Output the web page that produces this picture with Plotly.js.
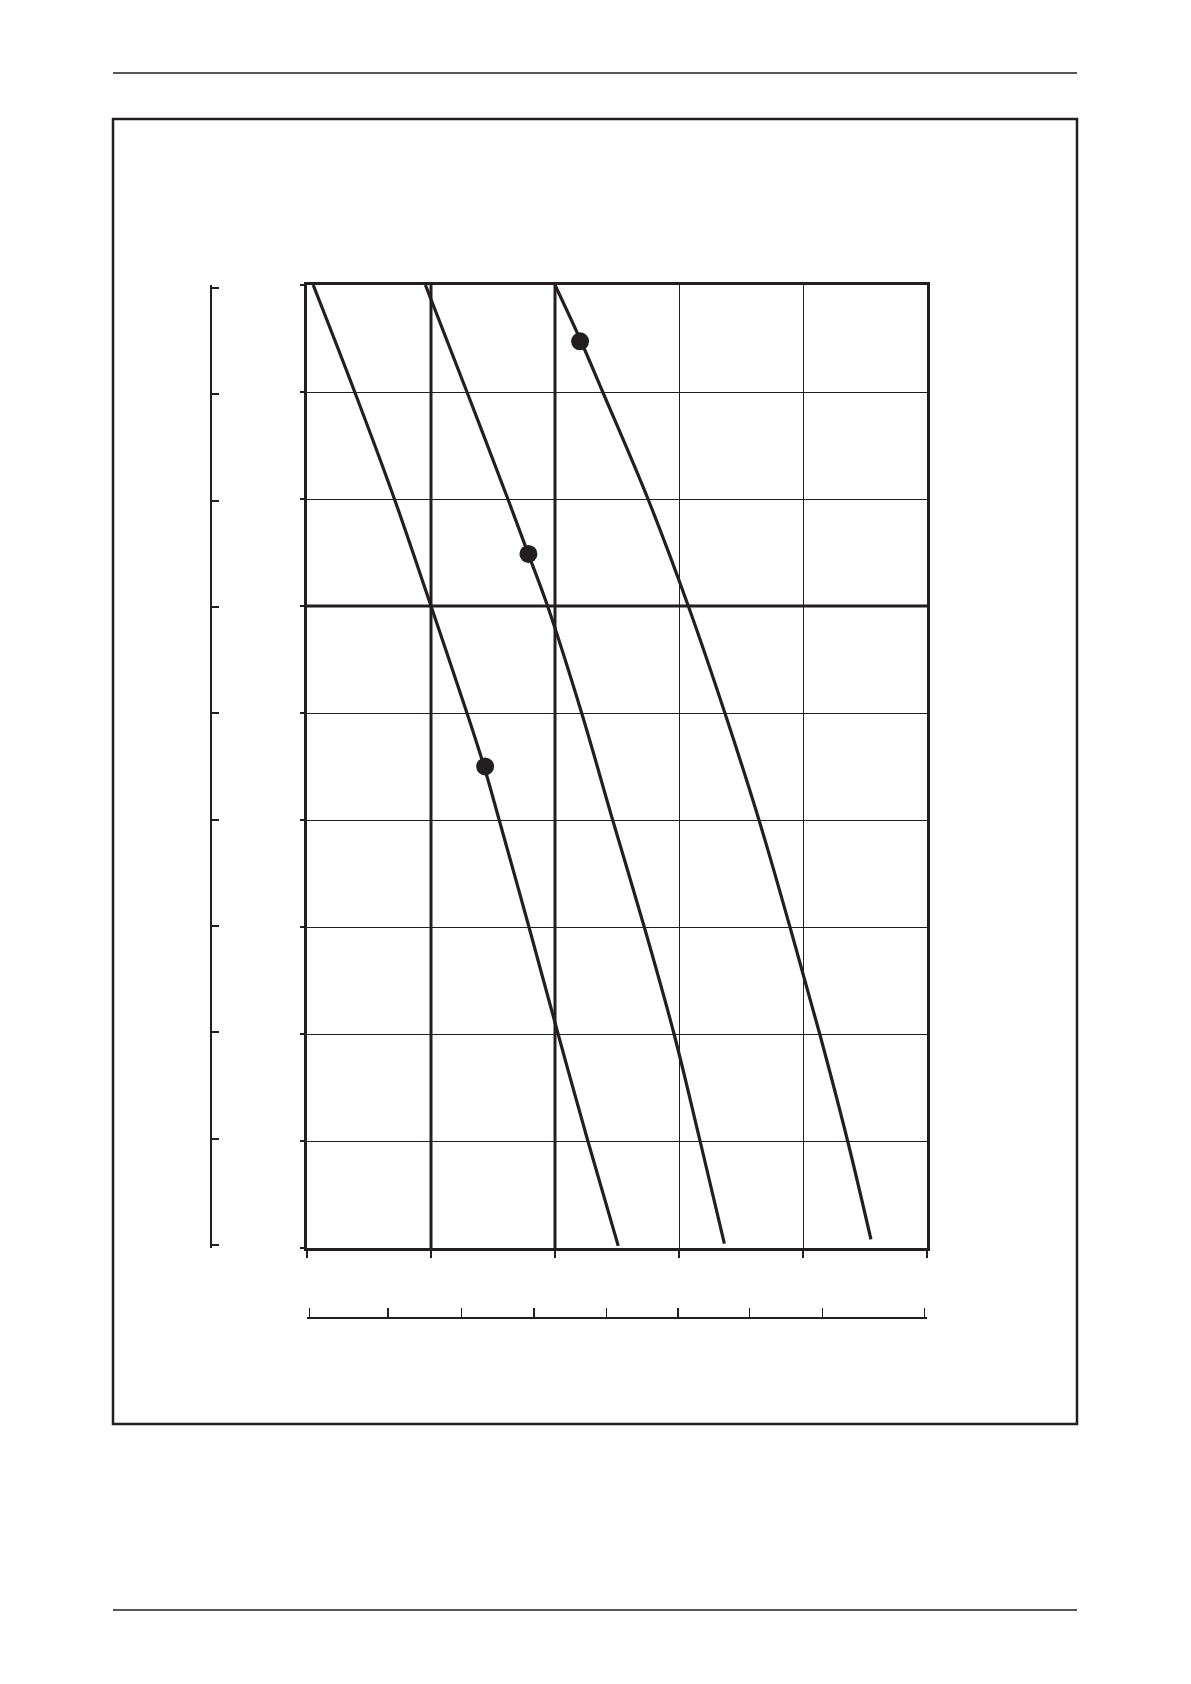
<!DOCTYPE html>
<html>
<head>
<meta charset="utf-8">
<script src="https://cdn.plot.ly/plotly-3.0.1.min.js"></script>
<style>
  html, body { margin: 0; padding: 0; background: #ffffff; }
  #chart { width: 1191px; height: 1684px; }
</style>
</head>
<body>
<div id="chart"></div>
<script>
// Curve readings (x in grid columns 0..5, y in grid rows 0..9)
const curveLowY  = [9, 8, 7, 6, 5, 4.5, 4, 3, 2, 1, 0.02];
const curveLowX  = [0.05, 0.385, 0.705, 1.0, 1.29, 1.428, 1.55, 1.79, 2.025, 2.265, 2.51];

const curveMidY  = [9, 8, 7, 6.5, 6, 5, 4, 3, 2, 1, 0.04];
const curveMidX  = [0.955, 1.29, 1.62, 1.78, 1.94, 2.215, 2.465, 2.72, 2.96, 3.17, 3.366];

const curveHighY = [9, 8.5, 8, 7, 6, 5, 4, 3, 2, 1, 0.08];
const curveHighX = [2.0, 2.2, 2.385, 2.75, 3.075, 3.37, 3.645, 3.895, 4.135, 4.36, 4.548];

// duty points marked with dots
const dotX = [1.428, 1.78, 2.2];
const dotY = [4.5, 6.5, 8.5];

// grid / tick positions
const gridX = [0, 1, 2, 3, 4, 5];
const gridY = [0, 1, 2, 3, 4, 5, 6, 7, 8, 9];
const boldGridX = [1, 2];
const boldGridY = [6];
const lowerScaleTicks = [0, 0.64, 1.238, 1.826, 2.415, 2.996, 3.578, 4.17, 5];

const ink = '#231f20';
const W = 1191, H = 1684;
const px = v => v / W;
const py = v => 1 - v / H;

const curveLine = { color: ink, width: 3.2, shape: 'spline', smoothing: 1 };

const traces = [
  { x: curveLowX, y: curveLowY, type: 'scatter', mode: 'lines', line: curveLine, hoverinfo: 'skip' },
  { x: curveMidX, y: curveMidY, type: 'scatter', mode: 'lines', line: curveLine, hoverinfo: 'skip' },
  { x: curveHighX, y: curveHighY, type: 'scatter', mode: 'lines', line: curveLine, hoverinfo: 'skip' },
  // the dots sit on the conversion-scale axes, which map onto the same plot area
  { x: dotX, y: dotY, xaxis: 'x2', yaxis: 'y2', type: 'scatter', mode: 'markers',
    marker: { color: ink, size: 18 }, hoverinfo: 'skip', cliponaxis: false }
];

const shapes = [];
// page header / footer rules and the figure frame
shapes.push({ type: 'line', xref: 'paper', yref: 'paper', x0: px(113), x1: px(1077), y0: py(73), y1: py(73), line: { color: ink, width: 1.5 } });
shapes.push({ type: 'line', xref: 'paper', yref: 'paper', x0: px(113), x1: px(1077), y0: py(1610), y1: py(1610), line: { color: ink, width: 1.5 } });
shapes.push({ type: 'rect', xref: 'paper', yref: 'paper', x0: px(113), x1: px(1077), y0: py(1424), y1: py(119), line: { color: ink, width: 2.5 } });
// heavier grid lines
boldGridX.forEach(v => shapes.push({ type: 'line', xref: 'x', yref: 'y', x0: v, x1: v, y0: 0, y1: 9, layer: 'below', line: { color: ink, width: 3 } }));
boldGridY.forEach(v => shapes.push({ type: 'line', xref: 'x', yref: 'y', x0: 0, x1: 5, y0: v, y1: v, layer: 'below', line: { color: ink, width: 3 } }));

// plot box chosen so every grid line lands on a whole pixel (124 px columns, 107 px rows)
const plotL = 307, plotR = 927, plotT = 285, plotB = 1248;
const xDomain = [px(plotL), px(plotR)];
const yDomain = [py(plotB), py(plotT)];
// conversion scales get a little slack so their end ticks are drawn
const xPad = 0.02, yPad = 0.03;
const colPx = (plotR - plotL) / 5, rowPx = (plotB - plotT) / 9;
const x2Domain = [px(plotL - xPad * colPx), px(plotR + xPad * colPx)];
const y2Domain = [py(plotB + yPad * rowPx), py(plotT - yPad * rowPx)];

const layout = {
  width: W, height: H,
  margin: { l: 0, r: 0, t: 0, b: 0 },
  paper_bgcolor: '#ffffff', plot_bgcolor: '#ffffff',
  showlegend: false,
  shapes: shapes,
  xaxis: {
    domain: xDomain, range: [0, 5], tickvals: gridX, showticklabels: false,
    showgrid: true, gridcolor: ink, gridwidth: 1, zeroline: false,
    showline: true, mirror: true, linecolor: ink, linewidth: 2.6,
    ticks: 'outside', ticklen: 7, tickwidth: 1.6, tickcolor: ink
  },
  yaxis: {
    domain: yDomain, range: [0, 9], tickvals: gridY, showticklabels: false,
    showgrid: true, gridcolor: ink, gridwidth: 1, zeroline: false,
    showline: true, mirror: true, linecolor: ink, linewidth: 2.6,
    ticks: 'outside', ticklen: 4, tickwidth: 1.6, tickcolor: ink
  },
  // lower conversion scale
  xaxis2: {
    domain: x2Domain, range: [-xPad, 5 + xPad], overlaying: 'x', anchor: 'free', position: py(1318), side: 'bottom',
    tickvals: lowerScaleTicks, showticklabels: false, showgrid: false, zeroline: false,
    showline: true, linecolor: ink, linewidth: 2.2,
    ticks: 'inside', ticklen: 9, tickwidth: 1.4, tickcolor: ink
  },
  // left conversion scale
  yaxis2: {
    domain: y2Domain, range: [-yPad, 9 + yPad], overlaying: 'y', anchor: 'free', position: px(211), side: 'left',
    tickvals: gridY, showticklabels: false, showgrid: false, zeroline: false,
    showline: true, linecolor: ink, linewidth: 2.2,
    ticks: 'inside', ticklen: 7, tickwidth: 2, tickcolor: ink
  }
};

Plotly.newPlot('chart', traces, layout, { staticPlot: true, displayModeBar: false });
</script>
</body>
</html>
